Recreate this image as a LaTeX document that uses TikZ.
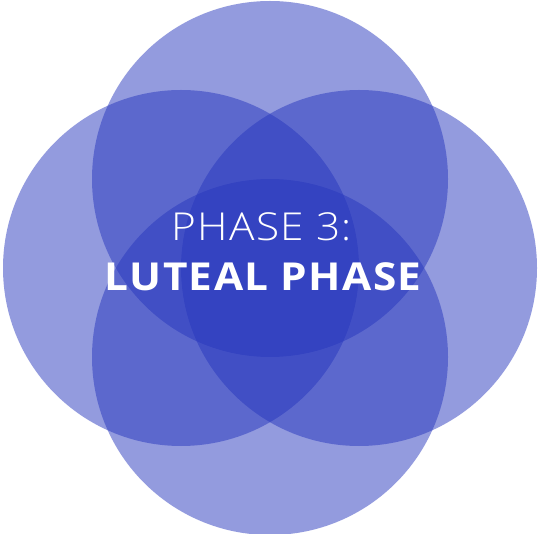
\documentclass[tikz,border=0pt]{standalone}
\usepackage{fontspec}
\setmainfont[FakeStretch=1.1,LetterSpace=3.5]{Open Sans}
\newfontfamily\lightfont[FakeStretch=1.1,LetterSpace=3.5]{Open Sans Light}
\definecolor{lutealblue}{RGB}{39,55,189}
\tikzset{
  petal/.style={circle, fill=lutealblue, fill opacity=0.5, minimum size=356pt, inner sep=0pt},
  caption/.style={text=white, anchor=base, inner sep=0pt}
}
\begin{document}
\begin{tikzpicture}[x=1pt,y=-1pt]
  \useasboundingbox (0,0) rectangle (540,534);
  % four overlapping petals
  \node[petal] (top) at (270,179) {};
  \node[petal] (left) at (181,268) {};
  \node[petal] (right) at (359,268) {};
  \node[petal] (bottom) at (270,357) {};
  % title
  \node[caption] (phase) at (261.7,241) {\lightfont\fontsize{38.5}{46}\selectfont PHASE 3:};
  \node[caption] (name) at (263.2,290.7) {\bfseries\fontsize{38.5}{46}\selectfont LUTEAL PHASE};
\end{tikzpicture}
\end{document}
